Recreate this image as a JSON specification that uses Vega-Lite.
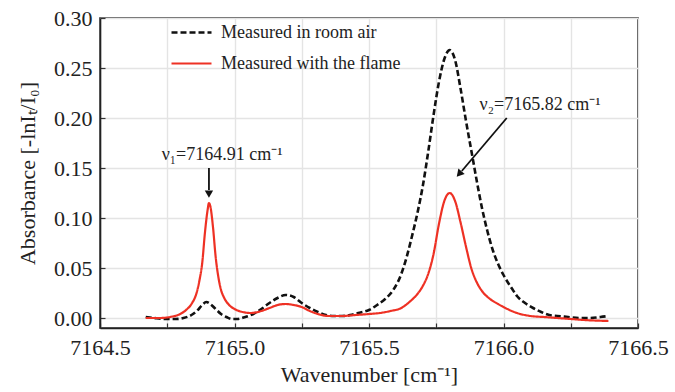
{
  "$schema": "https://vega.github.io/schema/vega-lite/v6.json",
  "width": 538,
  "height": 310,
  "autosize": {"type": "none"},
  "padding": {"left": 100, "top": 18, "right": 37, "bottom": 64},
  "background": "white",
  "config": {
    "view": {"stroke": "#222", "strokeWidth": 1.6},
    "font": "Liberation Serif, Times New Roman, serif",
    "axis": {
      "domainColor": "#222",
      "domainWidth": 1.6,
      "tickColor": "#333",
      "tickSize": -5,
      "tickWidth": 1.2,
      "gridColor": "#e4e4e4",
      "gridWidth": 1.4,
      "labelFont": "Liberation Serif, Times New Roman, serif",
      "labelFontSize": 22,
      "labelColor": "#222",
      "titleFont": "Liberation Serif, Times New Roman, serif",
      "titleFontSize": 22,
      "titleFontWeight": "normal",
      "titleColor": "#222",
      "labelOverlap": false,
      "labelFlush": false
    }
  },
  "datasets": {
    "spectra": [
      {"wn": 7164.67, "abs": 0.001, "series": "Measured in room air"},
      {"wn": 7164.70, "abs": 0.000, "series": "Measured in room air"},
      {"wn": 7164.74, "abs": -0.001, "series": "Measured in room air"},
      {"wn": 7164.78, "abs": -0.001, "series": "Measured in room air"},
      {"wn": 7164.81, "abs": 0.000, "series": "Measured in room air"},
      {"wn": 7164.84, "abs": 0.003, "series": "Measured in room air"},
      {"wn": 7164.86, "abs": 0.007, "series": "Measured in room air"},
      {"wn": 7164.88, "abs": 0.013, "series": "Measured in room air"},
      {"wn": 7164.895, "abs": 0.016, "series": "Measured in room air"},
      {"wn": 7164.91, "abs": 0.014, "series": "Measured in room air"},
      {"wn": 7164.93, "abs": 0.009, "series": "Measured in room air"},
      {"wn": 7164.95, "abs": 0.004, "series": "Measured in room air"},
      {"wn": 7164.97, "abs": 0.001, "series": "Measured in room air"},
      {"wn": 7164.99, "abs": -0.001, "series": "Measured in room air"},
      {"wn": 7165.01, "abs": -0.001, "series": "Measured in room air"},
      {"wn": 7165.04, "abs": 0.001, "series": "Measured in room air"},
      {"wn": 7165.07, "abs": 0.004, "series": "Measured in room air"},
      {"wn": 7165.10, "abs": 0.009, "series": "Measured in room air"},
      {"wn": 7165.13, "abs": 0.015, "series": "Measured in room air"},
      {"wn": 7165.16, "abs": 0.020, "series": "Measured in room air"},
      {"wn": 7165.19, "abs": 0.023, "series": "Measured in room air"},
      {"wn": 7165.22, "abs": 0.021, "series": "Measured in room air"},
      {"wn": 7165.25, "abs": 0.015, "series": "Measured in room air"},
      {"wn": 7165.28, "abs": 0.010, "series": "Measured in room air"},
      {"wn": 7165.31, "abs": 0.006, "series": "Measured in room air"},
      {"wn": 7165.34, "abs": 0.003, "series": "Measured in room air"},
      {"wn": 7165.37, "abs": 0.002, "series": "Measured in room air"},
      {"wn": 7165.40, "abs": 0.002, "series": "Measured in room air"},
      {"wn": 7165.43, "abs": 0.003, "series": "Measured in room air"},
      {"wn": 7165.46, "abs": 0.005, "series": "Measured in room air"},
      {"wn": 7165.50, "abs": 0.008, "series": "Measured in room air"},
      {"wn": 7165.53, "abs": 0.013, "series": "Measured in room air"},
      {"wn": 7165.56, "abs": 0.019, "series": "Measured in room air"},
      {"wn": 7165.59, "abs": 0.028, "series": "Measured in room air"},
      {"wn": 7165.62, "abs": 0.044, "series": "Measured in room air"},
      {"wn": 7165.64, "abs": 0.061, "series": "Measured in room air"},
      {"wn": 7165.66, "abs": 0.082, "series": "Measured in room air"},
      {"wn": 7165.68, "abs": 0.105, "series": "Measured in room air"},
      {"wn": 7165.70, "abs": 0.132, "series": "Measured in room air"},
      {"wn": 7165.72, "abs": 0.166, "series": "Measured in room air"},
      {"wn": 7165.74, "abs": 0.203, "series": "Measured in room air"},
      {"wn": 7165.76, "abs": 0.236, "series": "Measured in room air"},
      {"wn": 7165.78, "abs": 0.259, "series": "Measured in room air"},
      {"wn": 7165.80, "abs": 0.268, "series": "Measured in room air"},
      {"wn": 7165.82, "abs": 0.258, "series": "Measured in room air"},
      {"wn": 7165.84, "abs": 0.230, "series": "Measured in room air"},
      {"wn": 7165.86, "abs": 0.198, "series": "Measured in room air"},
      {"wn": 7165.88, "abs": 0.168, "series": "Measured in room air"},
      {"wn": 7165.90, "abs": 0.138, "series": "Measured in room air"},
      {"wn": 7165.92, "abs": 0.110, "series": "Measured in room air"},
      {"wn": 7165.94, "abs": 0.087, "series": "Measured in room air"},
      {"wn": 7165.96, "abs": 0.068, "series": "Measured in room air"},
      {"wn": 7165.98, "abs": 0.054, "series": "Measured in room air"},
      {"wn": 7166.00, "abs": 0.043, "series": "Measured in room air"},
      {"wn": 7166.03, "abs": 0.030, "series": "Measured in room air"},
      {"wn": 7166.05, "abs": 0.022, "series": "Measured in room air"},
      {"wn": 7166.08, "abs": 0.015, "series": "Measured in room air"},
      {"wn": 7166.11, "abs": 0.010, "series": "Measured in room air"},
      {"wn": 7166.14, "abs": 0.006, "series": "Measured in room air"},
      {"wn": 7166.17, "abs": 0.003, "series": "Measured in room air"},
      {"wn": 7166.20, "abs": 0.002, "series": "Measured in room air"},
      {"wn": 7166.24, "abs": 0.001, "series": "Measured in room air"},
      {"wn": 7166.28, "abs": 0.000, "series": "Measured in room air"},
      {"wn": 7166.32, "abs": 0.000, "series": "Measured in room air"},
      {"wn": 7166.36, "abs": 0.001, "series": "Measured in room air"},
      {"wn": 7166.39, "abs": 0.002, "series": "Measured in room air"},
      {"wn": 7164.67, "abs": 0.000, "series": "Measured with the flame"},
      {"wn": 7164.72, "abs": 0.000, "series": "Measured with the flame"},
      {"wn": 7164.76, "abs": 0.001, "series": "Measured with the flame"},
      {"wn": 7164.79, "abs": 0.003, "series": "Measured with the flame"},
      {"wn": 7164.82, "abs": 0.008, "series": "Measured with the flame"},
      {"wn": 7164.84, "abs": 0.014, "series": "Measured with the flame"},
      {"wn": 7164.86, "abs": 0.026, "series": "Measured with the flame"},
      {"wn": 7164.87, "abs": 0.038, "series": "Measured with the flame"},
      {"wn": 7164.88, "abs": 0.055, "series": "Measured with the flame"},
      {"wn": 7164.89, "abs": 0.085, "series": "Measured with the flame"},
      {"wn": 7164.90, "abs": 0.108, "series": "Measured with the flame"},
      {"wn": 7164.905, "abs": 0.115, "series": "Measured with the flame"},
      {"wn": 7164.91, "abs": 0.112, "series": "Measured with the flame"},
      {"wn": 7164.92, "abs": 0.091, "series": "Measured with the flame"},
      {"wn": 7164.93, "abs": 0.061, "series": "Measured with the flame"},
      {"wn": 7164.94, "abs": 0.041, "series": "Measured with the flame"},
      {"wn": 7164.95, "abs": 0.028, "series": "Measured with the flame"},
      {"wn": 7164.96, "abs": 0.021, "series": "Measured with the flame"},
      {"wn": 7164.98, "abs": 0.013, "series": "Measured with the flame"},
      {"wn": 7165.00, "abs": 0.009, "series": "Measured with the flame"},
      {"wn": 7165.03, "abs": 0.006, "series": "Measured with the flame"},
      {"wn": 7165.06, "abs": 0.005, "series": "Measured with the flame"},
      {"wn": 7165.10, "abs": 0.007, "series": "Measured with the flame"},
      {"wn": 7165.13, "abs": 0.010, "series": "Measured with the flame"},
      {"wn": 7165.16, "abs": 0.013, "series": "Measured with the flame"},
      {"wn": 7165.19, "abs": 0.014, "series": "Measured with the flame"},
      {"wn": 7165.22, "abs": 0.013, "series": "Measured with the flame"},
      {"wn": 7165.25, "abs": 0.011, "series": "Measured with the flame"},
      {"wn": 7165.28, "abs": 0.007, "series": "Measured with the flame"},
      {"wn": 7165.31, "abs": 0.004, "series": "Measured with the flame"},
      {"wn": 7165.35, "abs": 0.002, "series": "Measured with the flame"},
      {"wn": 7165.40, "abs": 0.002, "series": "Measured with the flame"},
      {"wn": 7165.45, "abs": 0.003, "series": "Measured with the flame"},
      {"wn": 7165.50, "abs": 0.004, "series": "Measured with the flame"},
      {"wn": 7165.54, "abs": 0.005, "series": "Measured with the flame"},
      {"wn": 7165.58, "abs": 0.007, "series": "Measured with the flame"},
      {"wn": 7165.62, "abs": 0.010, "series": "Measured with the flame"},
      {"wn": 7165.65, "abs": 0.016, "series": "Measured with the flame"},
      {"wn": 7165.68, "abs": 0.024, "series": "Measured with the flame"},
      {"wn": 7165.70, "abs": 0.032, "series": "Measured with the flame"},
      {"wn": 7165.72, "abs": 0.044, "series": "Measured with the flame"},
      {"wn": 7165.74, "abs": 0.064, "series": "Measured with the flame"},
      {"wn": 7165.76, "abs": 0.094, "series": "Measured with the flame"},
      {"wn": 7165.78, "abs": 0.117, "series": "Measured with the flame"},
      {"wn": 7165.80, "abs": 0.125, "series": "Measured with the flame"},
      {"wn": 7165.82, "abs": 0.117, "series": "Measured with the flame"},
      {"wn": 7165.84, "abs": 0.096, "series": "Measured with the flame"},
      {"wn": 7165.86, "abs": 0.072, "series": "Measured with the flame"},
      {"wn": 7165.88, "abs": 0.050, "series": "Measured with the flame"},
      {"wn": 7165.90, "abs": 0.036, "series": "Measured with the flame"},
      {"wn": 7165.92, "abs": 0.027, "series": "Measured with the flame"},
      {"wn": 7165.95, "abs": 0.019, "series": "Measured with the flame"},
      {"wn": 7165.98, "abs": 0.014, "series": "Measured with the flame"},
      {"wn": 7166.00, "abs": 0.011, "series": "Measured with the flame"},
      {"wn": 7166.05, "abs": 0.005, "series": "Measured with the flame"},
      {"wn": 7166.10, "abs": 0.002, "series": "Measured with the flame"},
      {"wn": 7166.15, "abs": 0.001, "series": "Measured with the flame"},
      {"wn": 7166.20, "abs": 0.000, "series": "Measured with the flame"},
      {"wn": 7166.25, "abs": -0.001, "series": "Measured with the flame"},
      {"wn": 7166.30, "abs": -0.002, "series": "Measured with the flame"},
      {"wn": 7166.39, "abs": -0.003, "series": "Measured with the flame"}
    ],
    "labels": [
      {"wn": 7164.954, "abs": 0.163, "text": "ν₁=7164.91 cm⁻¹"},
      {"wn": 7166.136, "abs": 0.213, "text": "ν₂=7165.82 cm⁻¹"}
    ],
    "shafts": [
      {"wn": 7164.905, "abs": 0.150, "wn2": 7164.905, "abs2": 0.128},
      {"wn": 7166.012, "abs": 0.200, "wn2": 7165.845, "abs2": 0.147}
    ],
    "heads": [
      {"wn": 7164.905, "abs": 0.125, "dir": 180},
      {"wn": 7165.838, "abs": 0.145, "dir": 221}
    ]
  },
  "layer": [
    {
      "data": {"name": "spectra"},
      "mark": {"type": "line", "interpolate": "monotone", "clip": true},
      "encoding": {
        "x": {
          "field": "wn", "type": "quantitative",
          "scale": {"domain": [7164.5, 7166.5], "nice": false, "zero": false},
          "axis": {
            "title": "Wavenumber [cm⁻¹]",
            "values": [7164.5, 7164.75, 7165, 7165.25, 7165.5, 7165.75, 7166, 7166.25, 7166.5],
            "labelExpr": "datum.value % 0.5 == 0 ? format(datum.value, '.1f') : ''",
            "labelFont": "Liberation Serif",
            "titleFont": "Liberation Serif",
            "labelPadding": 14,
            "titlePadding": 6
          }
        },
        "y": {
          "field": "abs", "type": "quantitative",
          "scale": {"domain": [-0.01, 0.30], "nice": false, "zero": false},
          "axis": {
            "title": "Absorbance [-lnIₜ/I₀]",
            "values": [0, 0.025, 0.05, 0.075, 0.1, 0.125, 0.15, 0.175, 0.2, 0.225, 0.25, 0.275, 0.3],
            "labelExpr": "round(datum.value * 1000) % 50 == 0 ? format(datum.value, '.2f') : ''",
            "gridOpacity": {"condition": {"test": "round(datum.value * 1000) % 50 == 0", "value": 1}, "value": 0},
            "labelFont": "Liberation Serif",
            "titleFont": "Liberation Serif",
            "labelPadding": 13,
            "titlePadding": 14
          }
        },
        "color": {
          "field": "series", "type": "nominal",
          "scale": {"domain": ["Measured in room air", "Measured with the flame"], "range": ["#111111", "#ee3124"]},
          "legend": {
            "title": null,
            "orient": "none",
            "legendX": 70,
            "legendY": -7,
            "symbolType": "stroke",
            "symbolSize": 1600,
            "symbolStrokeWidth": 2.5,
            "labelFont": "Liberation Serif, Times New Roman, serif",
            "labelFontSize": 18,
            "labelColor": "#222",
            "labelOffset": 8,
            "labelLimit": 400,
            "rowPadding": 0
          }
        },
        "strokeDash": {
          "field": "series", "type": "nominal",
          "scale": {"domain": ["Measured in room air", "Measured with the flame"], "range": [[6, 3], [1, 0]]},
          "legend": null
        },
        "strokeWidth": {
          "field": "series", "type": "nominal",
          "scale": {"domain": ["Measured in room air", "Measured with the flame"], "range": [2.6, 2.2]},
          "legend": null
        }
      }
    },
    {
      "data": {"name": "shafts"},
      "mark": {"type": "rule", "color": "#111", "strokeWidth": 1.8},
      "encoding": {
        "x": {"field": "wn", "type": "quantitative"},
        "y": {"field": "abs", "type": "quantitative"},
        "x2": {"field": "wn2"},
        "y2": {"field": "abs2"}
      }
    },
    {
      "data": {"name": "heads"},
      "mark": {"type": "point", "shape": "triangle", "filled": true, "color": "#111", "size": 70, "opacity": 1},
      "encoding": {
        "x": {"field": "wn", "type": "quantitative"},
        "y": {"field": "abs", "type": "quantitative"},
        "angle": {"field": "dir", "type": "quantitative", "scale": null}
      }
    },
    {
      "data": {"name": "labels"},
      "mark": {"type": "text", "font": "Liberation Serif, Times New Roman, serif", "fontSize": 18, "color": "#222", "align": "center", "baseline": "middle"},
      "encoding": {
        "x": {"field": "wn", "type": "quantitative"},
        "y": {"field": "abs", "type": "quantitative"},
        "text": {"field": "text"}
      }
    }
  ]
}
